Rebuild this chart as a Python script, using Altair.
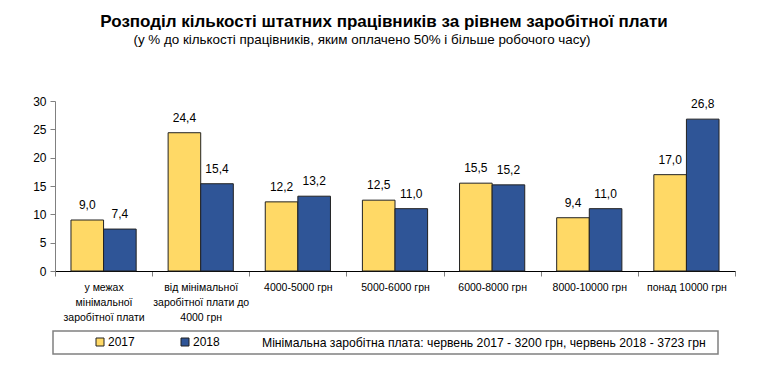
import altair as alt
import pandas as pd

categories = [
    "у межах|мінімальної|заробітної плати",
    "від мінімальної|заробітної плати до|4000 грн",
    "4000-5000 грн",
    "5000-6000 грн",
    "6000-8000 грн",
    "8000-10000 грн",
    "понад 10000 грн",
]
years = ["2017", "2018"]
values_2017 = [9.0, 24.4, 12.2, 12.5, 15.5, 9.4, 17.0]
values_2018 = [7.4, 15.4, 13.2, 11.0, 15.2, 11.0, 26.8]
y_ticks = [0, 5, 10, 15, 20, 25, 30]
colors = ["#FFD966", "#2F5597"]

title_text = "Розподіл кількості штатних працівників за рівнем заробітної плати"
subtitle_text = "(у % до кількості працівників, яким оплачено 50% і більше робочого часу)"
note_text = "Мінімальна заробітна плата: червень 2017 - 3200 грн, червень 2018 - 3723 грн"

rows = []
for yr, vals in zip(years, [values_2017, values_2018]):
    for c, v in zip(categories, vals):
        rows.append({"cat": c, "year": yr, "value": v,
                     "label": f"{v:.1f}".replace(".", ",")})
df = pd.DataFrame(rows)

FONT = "Liberation Sans"

x = alt.X("cat:N", sort=categories, title=None,
          scale=alt.Scale(paddingInner=0, paddingOuter=0),
          axis=alt.Axis(labelExpr="split(datum.label, '|')", labelAngle=0,
                        tickBand="extent", labelFontSize=10.5, labelFont=FONT,
                        labelColor="#000", labelLineHeight=15, labelPadding=6,
                        tickSize=5, tickColor="#808080", domainColor="#000",
                        labelBaseline="top"))
xo = alt.XOffset("year:N", sort=years,
                 scale=alt.Scale(paddingInner=0, paddingOuter=0.49))
y = alt.Y("value:Q", title=None,
          scale=alt.Scale(domain=[0, 30], nice=False),
          axis=alt.Axis(values=y_ticks, labelFontSize=12, labelFont=FONT,
                        labelColor="#000", tickSize=5, tickColor="#808080",
                        domainColor="#808080", grid=False, labelPadding=4))
color = alt.Color("year:N", sort=years,
                  scale=alt.Scale(domain=years, range=colors),
                  legend=alt.Legend(title=None, orient="none", direction="horizontal",
                                    legendX=39, legendY=235, symbolType="square",
                                    symbolSize=64, symbolStrokeColor="#222",
                                    symbolStrokeWidth=1, labelFontSize=12,
                                    labelFont=FONT, columnPadding=44, padding=0,
                                    labelOffset=2))

base = alt.Chart(df)
bars = base.mark_bar(stroke="#222", strokeWidth=1).encode(x=x, xOffset=xo, y=y, color=color)
labels = base.mark_text(baseline="bottom", dy=-8, fontSize=12, font=FONT, color="#000").encode(
    x=x, xOffset=xo, y=y, text="label:N")

box_df = pd.DataFrame({"t": [note_text]})
box = alt.Chart(box_df).mark_rect(fill="white", stroke="#808080", strokeWidth=1.5).encode(
    x=alt.value(-2), x2=alt.value(663), y=alt.value(230), y2=alt.value(253))
note = alt.Chart(box_df).mark_text(align="left", baseline="middle", fontSize=12.2,
                                   font=FONT, color="#000").encode(
    x=alt.value(207), y=alt.value(242), text="t:N")
sub_df = pd.DataFrame({"t": [subtitle_text]})
subtitle = alt.Chart(sub_df).mark_text(align="center", baseline="middle", fontSize=13.4,
                                       font=FONT, color="#000").encode(
    x=alt.value(307), y=alt.value(-61), text="t:N")

chart = alt.layer(box, bars, labels, note, subtitle).properties(
    width=680, height=170,
    autosize="none",
    padding={"left": 47, "top": 93, "right": 20, "bottom": 105},
    title=alt.Title(title_text, anchor="middle", dx=-11, offset=2,
                    fontSize=17, font=FONT, fontWeight="bold", color="#000"),
).configure_view(stroke=None)

chart.save("out.html", embed_options={"renderer": "svg", "actions": False})
